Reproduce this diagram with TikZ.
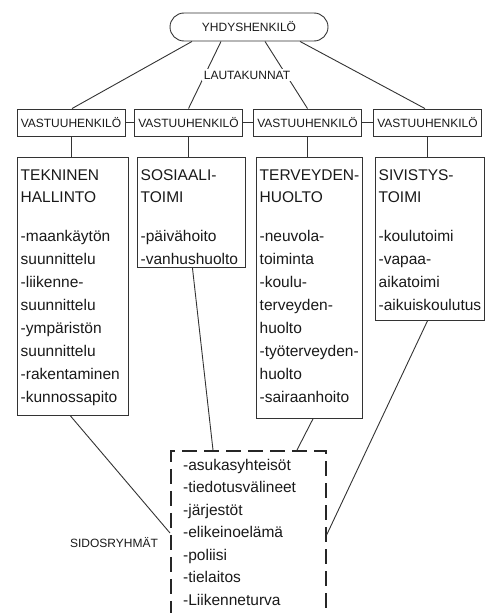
\documentclass[tikz,border=0pt]{standalone}
\usepackage{fontspec}
\setmainfont{Liberation Sans}
\usetikzlibrary{calc}
\newcommand\boxlines[5]{% node, x offset, first baseline offset, step, list
  \foreach \t [count=\i from 0] in {#5}
    \node[itemtext] at ($(#1.north west)+(#2,#3+\i*#4)$) {\t};}
\begin{document}
\begin{tikzpicture}[x=1pt,y=-1pt,
  every node/.style={font=\fontsize{12}{14}\selectfont, text=black!90},
  conn/.style={draw=black!80, line width=0.9pt},
  vbox/.style={draw=black!80, line width=0.9pt, minimum width=108pt, minimum height=27pt, inner sep=0pt},
  bigbox/.style={draw=black!80, line width=0.9pt, inner sep=0pt, anchor=north west},
  itemtext/.style={font=\fontsize{15.5}{18}\selectfont, anchor=base west, inner sep=0pt},
  sgbox/.style={draw=black!85, line width=1.6pt, dash pattern=on 15pt off 7pt, inner sep=0pt, anchor=north west},
]
\useasboundingbox (0,0) rectangle (493,613);
\clip (0,0) rectangle (493,613);

% top
\node[draw=black!80, line width=0.9pt, rounded corners=14pt, minimum width=158pt, minimum height=28pt, inner sep=0pt] (yh) at (249,27) {YHDYSHENKILÖ};

% responsible persons
\node[vbox] (v1) at (71,122.5) {VASTUUHENKILÖ};
\node[vbox] (v2) at (188.5,122.5) {VASTUUHENKILÖ};
\node[vbox] (v3) at (307.5,122.5) {VASTUUHENKILÖ};
\node[vbox] (v4) at (427.5,122.5) {VASTUUHENKILÖ};

\draw[conn] ([xshift=-57pt]yh.south) -- ([xshift=1pt]v1.north);
\draw[conn] ([xshift=-28pt]yh.south) -- (v2.north);
\draw[conn] ([xshift=16pt]yh.south) -- (v3.north);
\draw[conn] ([xshift=51pt]yh.south) -- ([xshift=-2.5pt]v4.north);
\node[fill=white, inner sep=1.5pt] (lk) at (247,75) {LAUTAKUNNAT};

\draw[conn] (v1.east) -- (v2.west);
\draw[conn] (v2.east) -- (v3.west);
\draw[conn] (v3.east) -- (v4.west);

% big boxes
\node[bigbox, minimum width=111pt, minimum height=258pt] (tek) at (17,157) {};
\node[bigbox, minimum width=108pt, minimum height=110pt] (sos) at (137,157) {};
\node[bigbox, minimum width=106pt, minimum height=261pt] (ter) at (256,157) {};
\node[bigbox, minimum width=109pt, minimum height=163pt] (siv) at (375,157) {};

\draw[conn] (v1.south) -- (v1.south |- tek.north);
\draw[conn] (v2.south) -- (v2.south |- sos.north);
\draw[conn] (v3.south) -- (v3.south |- ter.north);
\draw[conn] (v4.south) -- (v4.south |- siv.north);

\boxlines{tek}{3.5}{23}{22}{TEKNINEN, HALLINTO}
\boxlines{tek}{3.5}{84}{23}{-maankäytön, suunnittelu, -liikenne-, suunnittelu, -ympäristön, suunnittelu, -rakentaminen, -kunnossapito}
\boxlines{sos}{3.5}{23}{22}{SOSIAALI-, TOIMI}
\boxlines{sos}{3.5}{84}{23}{-päivähoito, -vanhushuolto}
\boxlines{ter}{3.5}{23}{22}{TERVEYDEN-, HUOLTO}
\boxlines{ter}{3.5}{84}{23}{-neuvola-, toiminta, -koulu-, terveyden-, huolto, -työterveyden-, huolto, -sairaanhoito}
\boxlines{siv}{3.5}{23}{22}{SIVISTYS-, TOIMI}
\boxlines{siv}{3.5}{84}{23}{-koulutoimi, -vapaa-, aikatoimi, -aikuiskoulutus}

% stakeholders
\node[sgbox, minimum width=155pt, minimum height=200pt] (sg) at (170,450) {};
\boxlines{sg}{13}{20}{22.5}{-asukasyhteisöt, -tiedotusvälineet, -järjestöt, -elikeinoelämä, -poliisi, -tielaitos, -Liikenneturva}
\node (sr) at (114,543) {SIDOSRYHMÄT};

\draw[conn] ([xshift=-2.5pt]tek.south) -- ([yshift=-83pt]sg.north west);
\draw[conn] ([xshift=1pt]sos.south) -- ([xshift=43pt]sg.north west);
\draw[conn] ([xshift=3.5pt]ter.south) -- ([xshift=127pt]sg.north west);
\draw[conn] ([xshift=-2.5pt]siv.south) -- ([yshift=-85pt]sg.north east);
\end{tikzpicture}
\end{document}
